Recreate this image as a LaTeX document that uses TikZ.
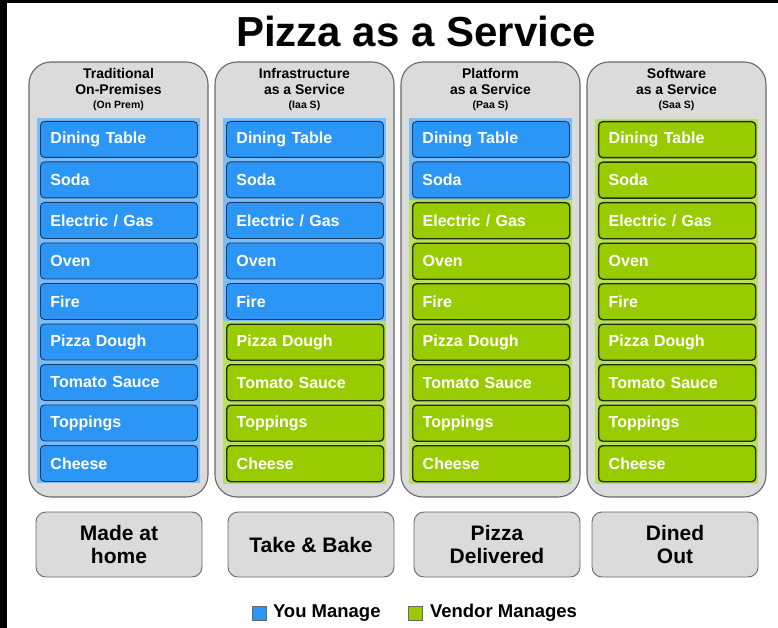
\documentclass[tikz,border=0pt]{standalone}
\usepackage{fontspec}
\setmainfont{Liberation Sans}
\usepackage{tikz}
\usetikzlibrary{positioning}

\definecolor{panelgray}{RGB}{219,219,219}
\definecolor{panelline}{RGB}{105,105,105}
\definecolor{youblue}{RGB}{44,150,246}
\definecolor{youband}{RGB}{125,188,242}
\definecolor{youline}{RGB}{22,58,105}
\definecolor{vendorgreen}{RGB}{153,204,0}
\definecolor{vendorband}{RGB}{188,222,90}
\definecolor{vendorline}{RGB}{28,48,10}

\tikzset{
  panel/.style={draw=panelline, fill=panelgray, line width=1.1pt, rounded corners=22pt},
  headtext/.style={align=center, inner sep=0pt, font=\bfseries\fontsize{14}{15.5}\selectfont},
  youbox/.style={draw=youline, fill=youblue, line width=0.9pt, rounded corners=4pt,
    anchor=north west, minimum height=36pt, text width=137pt, inner xsep=10pt, inner ysep=0pt,
    align=left, text=white, font=\bfseries\fontsize{16}{18}\selectfont},
  vendorbox/.style={youbox, draw=vendorline, fill=vendorgreen, line width=1.4pt},
  endbox/.style={draw=panelline, fill=panelgray, line width=0.9pt, rounded corners=10pt,
    minimum width=166pt, minimum height=65pt, align=center, font=\bfseries\fontsize{21}{23}\selectfont},
  keysquare/.style={draw=panelline, line width=0.6pt, minimum size=14pt, inner sep=0pt},
  keytext/.style={inner sep=0pt, font=\bfseries\fontsize{18.5}{20}\selectfont}
}

\begin{document}
\begin{tikzpicture}[x=1pt,y=-1pt]
\useasboundingbox (0,0) rectangle (778,628);
\fill[black] (0,0) rectangle (778,628); % dark frame at the left and top
\fill[white] (7,3) rectangle (778,628);

\node[font=\bfseries\fontsize{42}{44}\selectfont] (title) at (416,31) {Pizza as a Service};

\foreach \c/\first/\second/\short/\nyou in {0/Traditional/On-Premises/On Prem/9,
                                            1/Infrastructure/as a Service/Iaa S/5,
                                            2/Platform/as a Service/Paa S/2,
                                            3/Software/as a Service/Saa S/0}{
  \pgfmathsetmacro{\px}{29+186*\c}         % left edge of the column
  \pgfmathsetmacro{\split}{121+40.5*\nyou-2.25} % where blue turns green
  \draw[panel] (\px,62) rectangle ++(179,435);
  \node[headtext] (head\c) at (\px+89.5,90) {\first\\\second\\[-1pt]{\fontsize{10.5}{12}\selectfont (\short)}};
  \ifnum\nyou>0 \fill[youband] (\px+8,118) rectangle (\px+171,\split); \fi
  \ifnum\nyou<9 \fill[vendorband] (\px+8,\split) rectangle (\px+171,484); \fi
  \foreach \food [count=\i] in {Dining Table,Soda,Electric / Gas,Oven,Fire,
                                Pizza Dough,Tomato Sauce,Toppings,Cheese}{
    \pgfmathsetmacro{\py}{121+40.5*(\i-1)}
    \ifnum\i>\nyou
      \node[vendorbox] (item\c-\i) at (\px+11,\py) {\food};
    \else
      \node[youbox] (item\c-\i) at (\px+11,\py) {\food};
    \fi
  }
}

\foreach \c/\cx/\what in {0/119/Made at\\home, 1/311/Take \& Bake,
                          2/497/Pizza\\Delivered, 3/675/Dined\\Out}{
  \node[endbox] (end\c) at (\cx,544.5) {\what};
}

% legend
\node[keysquare, fill=youblue] (youkey) at (259.5,613) {};
\node[keytext, right=6pt of youkey] (youtext) {You Manage};
\node[keysquare, fill=vendorgreen] (vendorkey) at (415.5,613) {};
\node[keytext, right=7pt of vendorkey] (vendortext) {Vendor Manages};
\end{tikzpicture}
\end{document}
